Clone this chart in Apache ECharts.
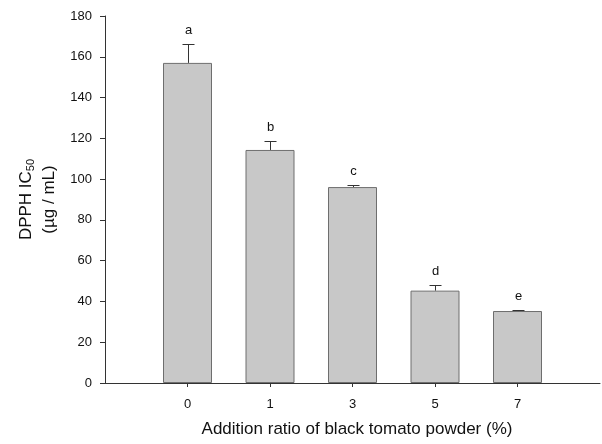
<!DOCTYPE html>
<html>
<head>
    <meta charset="utf-8">
    <title>DPPH IC50</title>
    <script src="https://cdn.jsdelivr.net/npm/echarts@6/dist/echarts.min.js"></script>
    <style>
        html, body { margin: 0; padding: 0; background: #fff; }
        #main { width: 602px; height: 444px; }
    </style>
</head>
<body>
<div id="main"></div>
<script>
    // ratio of black tomato powder (%)
    var categories = ['0', '1', '3', '5', '7'];
    var ic50 = [157.0, 114.3, 96.1, 45.3, 35.3];
    var sd = [9.3, 4.5, 1.0, 2.9, 0.5];
    var letters = ['a', 'b', 'c', 'd', 'e'];
    var yTicks = [0, 20, 40, 60, 80, 100, 120, 140, 160, 180];

    var font = 'Liberation Sans, Arial, sans-serif';

    // empty slot at each end so the axis runs past the outer bars
    var axisCats = [''].concat(categories).concat(['']);
    var barData = [null].concat(ic50).concat([null]);
    var errData = categories.map(function (c, i) {
        return [i + 1, ic50[i], sd[i], letters[i]];
    });

    var myChart = echarts.init(document.getElementById('main'), null, {renderer: 'canvas'});

    var option = {
        animation: false,
        backgroundColor: '#fff',
        grid: {left: 105, right: 2, top: 16, bottom: 61, containLabel: false, outerBoundsMode: 'none'},
        xAxis: {
            type: 'category',
            data: axisCats,
            boundaryGap: false,
            name: 'Addition ratio of black tomato powder (%)',
            nameLocation: 'middle',
            nameGap: 38,
            nameTextStyle: {fontFamily: font, fontSize: 17, color: '#111', padding: [0, 0, 0, 9]},
            axisLine: {lineStyle: {color: '#333', width: 1}},
            axisTick: {
                length: 4,
                lineStyle: {color: '#333'},
                interval: function (idx) { return idx > 0 && idx < axisCats.length - 1; }
            },
            axisLabel: {fontFamily: font, fontSize: 13, color: '#111', margin: 15, interval: 0},
            splitLine: {show: false}
        },
        yAxis: {
            type: 'value',
            min: yTicks[0],
            max: yTicks[yTicks.length - 1],
            interval: 20,
            name: '{a|DPPH IC}{s|50}\n{a|(µg / mL)}',
            nameLocation: 'middle',
            nameRotate: 90,
            nameGap: 44,
            nameTextStyle: {
                rich: {
                    a: {fontFamily: font, fontSize: 17, color: '#111', lineHeight: 23},
                    s: {fontFamily: font, fontSize: 11, color: '#111', lineHeight: 23, padding: [8, 0, 0, 0]}
                }
            },
            axisLine: {show: true, lineStyle: {color: '#333', width: 1}},
            axisTick: {show: true, length: 5, lineStyle: {color: '#333'}},
            axisLabel: {fontFamily: font, fontSize: 13, color: '#111', margin: 13},
            splitLine: {show: false}
        },
        series: [
            {
                type: 'bar',
                data: barData,
                barWidth: 49,
                itemStyle: {color: '#c8c8c8', borderColor: '#6e6e6e', borderWidth: 1}
            },
            {
                type: 'custom',
                data: errData,
                z: 5,
                renderItem: function (params, api) {
                    var x = api.value(0);
                    var base = api.coord([x, api.value(1)]);
                    var top = api.coord([x, api.value(1) + api.value(2)]);
                    var cx = Math.round(base[0]) + 0.5;
                    var ty = Math.round(top[1]) + 0.5;
                    return {
                        type: 'group',
                        children: [
                            {type: 'line', shape: {x1: cx, y1: base[1], x2: cx, y2: ty},
                                style: {stroke: '#333', lineWidth: 1}},
                            {type: 'line', shape: {x1: cx - 6, y1: ty, x2: cx + 6, y2: ty},
                                style: {stroke: '#333', lineWidth: 1}},
                            {type: 'text', x: cx, y: ty - 14,
                                style: {text: errData[params.dataIndex][3], fontFamily: font, fontSize: 13,
                                    fill: '#111', align: 'center', verticalAlign: 'middle'}}
                        ]
                    };
                }
            }
        ]
    };

    myChart.setOption(option);
    window.addEventListener('resize', myChart.resize);
</script>
</body>
</html>
